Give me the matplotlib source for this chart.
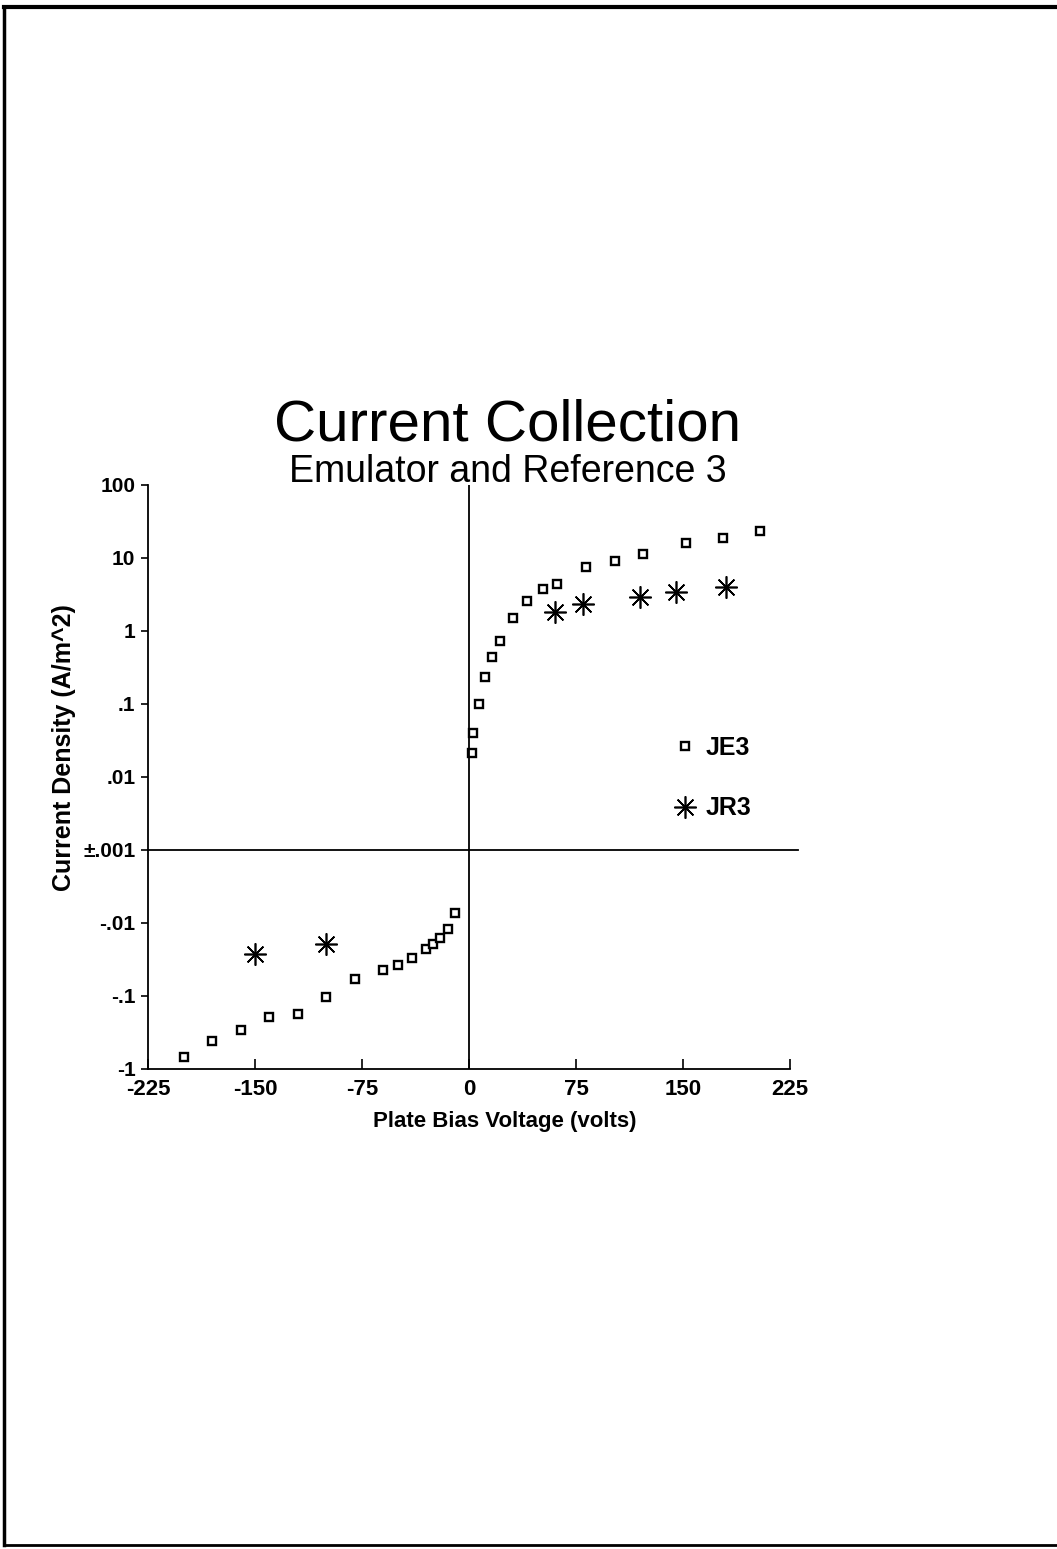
import numpy as np
import matplotlib
matplotlib.use('Agg')
from matplotlib import pyplot as plt
from matplotlib.lines import Line2D

plt.rcParams['font.family'] = ['Liberation Sans', 'DejaVu Sans']

# JE3 - emulator data (open squares)
je3_v = [2, 3, 7, 11, 16, 22, 31, 41, 52, 62, 82, 102, 122, 152, 178, 204,
         -200, -180, -160, -140, -120, -100, -80, -60, -50, -40, -30, -25, -20, -15, -10]
je3_j = [0.021, 0.040, 0.10, 0.235, 0.44, 0.73, 1.5, 2.6, 3.8, 4.4, 7.5, 9.1, 11.4, 16.0, 18.8, 23.4,
         -0.685, -0.41, -0.29, -0.194, -0.177, -0.103, -0.0585, -0.044, -0.0376, -0.030, -0.0227,
         -0.0194, -0.016, -0.0121, -0.0073]

# JR3 - reference data (asterisks)
jr3_v = [60, 80, 120, 145, 180, -150, -100]
jr3_j = [1.82, 2.34, 2.92, 3.42, 4.0, -0.0266, -0.0194]

yticks = [100, 10, 1, .1, .01, .001, -.01, -.1, -1]
ytick_labels = ['100', '10', '1', '.1', '.01', '\u00b1.001', '-.01', '-.1', '-1']
xticks = [-225, -150, -75, 0, 75, 150, 225]


def fwd(v):
    v = np.asarray(v, dtype=float)
    return np.sign(v) * (np.log10(np.maximum(np.abs(v), 1e-3)) + 3)


def inv(y):
    y = np.asarray(y, dtype=float)
    return np.sign(y) * 10 ** (np.abs(y) - 3)


fig = plt.figure(figsize=(10.57, 15.49), dpi=100)
ax = fig.add_axes([0.140, 0.3099, 0.6074, 0.3770])
ax.set_yscale('function', functions=(fwd, inv))

ax.plot(je3_v, je3_j, ls='none', marker='s', ms=5.5, mfc='white', mec='black', mew=1.7, label='JE3')
ax.plot(jr3_v, jr3_j, ls='none', marker=(8, 2, 0), ms=16, mec='black', mew=1.2, label='JR3')

# zero lines
ax.axvline(0, color='black', lw=1.3)
ax.axhline(0.001, xmin=0, xmax=1.012, color='black', lw=1.3, clip_on=False)

ax.set_xlim(-225, 225)
ax.set_ylim(-1, 100)
ax.set_xticks(xticks)
ax.set_xticklabels([str(t) for t in xticks], fontsize=16, fontweight='bold')
ax.set_yticks(yticks)
ax.set_yticklabels(ytick_labels, fontsize=15, fontweight='bold')
ax.minorticks_off()
ax.tick_params(axis='x', direction='in', length=7, width=1.2, pad=7)
ax.tick_params(axis='y', direction='out', length=5, width=1.2, pad=4)

for s in ['top', 'right']:
    ax.spines[s].set_visible(False)
for s in ['left', 'bottom']:
    ax.spines[s].set_linewidth(1.3)

ax.set_xlabel('Plate Bias Voltage (volts)', fontsize=16, fontweight='bold')
ax.xaxis.set_label_coords(0.556, -0.072)
ax.set_ylabel('Current Density (A/m^2)', fontsize=18, fontweight='bold')
ax.yaxis.set_label_coords(-0.112, 0.551)

leg = ax.legend(loc='upper left', bbox_to_anchor=(0.797, 0.592), frameon=False,
                prop={'size': 18, 'weight': 'bold'}, handlelength=1.0, handletextpad=0.34,
                labelspacing=1.46, borderpad=0, markerscale=1.0)

fig.text(0.4806, 0.7159, 'Current Collection', fontsize=42, ha='center', va='baseline')
fig.text(0.4806, 0.6888, 'Emulator and Reference 3', fontsize=27, ha='center', va='baseline')

# page border of the scanned sheet
fig.add_artist(Line2D([0.004, 0.004], [0.0025, 0.9955], color='black', lw=2.5))
fig.add_artist(Line2D([0.004, 1.0], [0.9955, 0.9955], color='black', lw=3))
fig.add_artist(Line2D([0.004, 1.0], [0.0025, 0.0025], color='black', lw=2))

fig.savefig('out.png', dpi=100)
